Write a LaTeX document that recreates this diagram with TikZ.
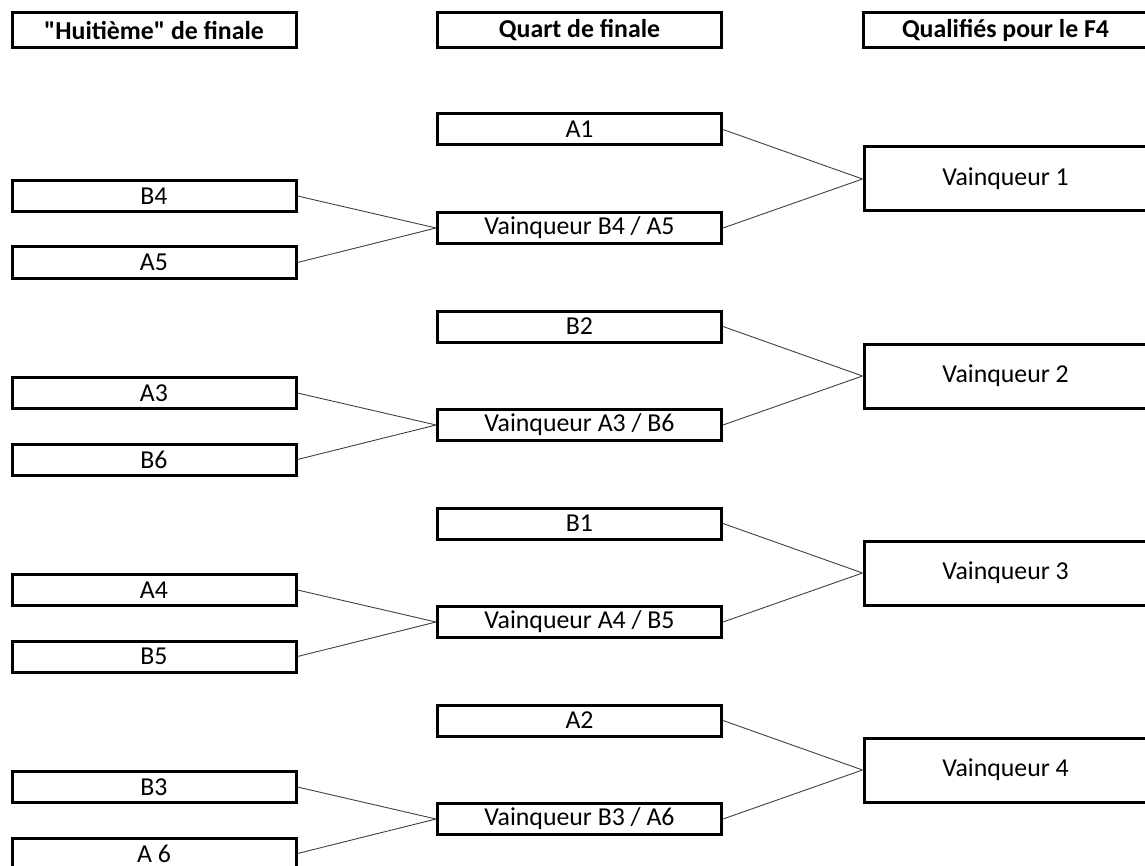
\documentclass[tikz,border=0pt]{standalone}
\usepackage{fontspec}
\setmainfont{Carlito}
\usetikzlibrary{positioning}

\begin{document}
\begin{tikzpicture}[x=0.5pt,y=-0.5pt,
    box/.style={draw,line width=1.5pt,minimum width=142pt,minimum height=15.5pt,
      inner sep=0pt,font=\fontsize{12.9}{14}\selectfont},
    headbox/.style={box,minimum height=17.5pt,font=\fontsize{12.9}{14}\selectfont\bfseries},
    winbox/.style={box,minimum width=141.5pt,minimum height=32pt},
    link/.style={draw=black!75,line width=0.45pt}]
  \useasboundingbox (0,0) rectangle (1145,866);
  \clip (0,0) rectangle (1145,866);

  % Column titles
  \node[headbox] (head_h) at (154,30.5)    {\textquotedbl Huitième\textquotedbl{} de finale};
  \node[headbox] (head_q) at (579.5,30.5)  {Quart de finale};
  \node[headbox] (head_f) at (1005.5,30.5) {Qualifiés pour le F4};

  % One block of the bracket per semi-final place
  \foreach \k/\qtop/\hup/\hdn/\hdntxt/\n in {0/A1/B4/A5/A5/1, 1/B2/A3/B6/B6/2,
      2/B1/A4/B5/B5/3, 3/A2/B3/A6/A 6/4} {
    \node[box] (hup\k)  at (154,{196+\k*197})     {\hup};
    \node[box] (hdn\k)  at (154,{262.5+\k*197})   {\hdntxt};
    \node[box] (qtop\k) at (579.5,{129.5+\k*197}) {\qtop};
    \node[box] (qwin\k) at (579.5,{228+\k*197})   {Vainqueur \hup{} / \hdn};
    \node[winbox] (win\k) at (1005.5,{179+\k*197}) {Vainqueur \n};

    \path[link] (hup\k.east) -- (qwin\k.west)
                (hdn\k.east) -- (qwin\k.west)
                (qtop\k.east) -- (win\k.west)
                (qwin\k.east) -- (win\k.west);
  }
\end{tikzpicture}
\end{document}
